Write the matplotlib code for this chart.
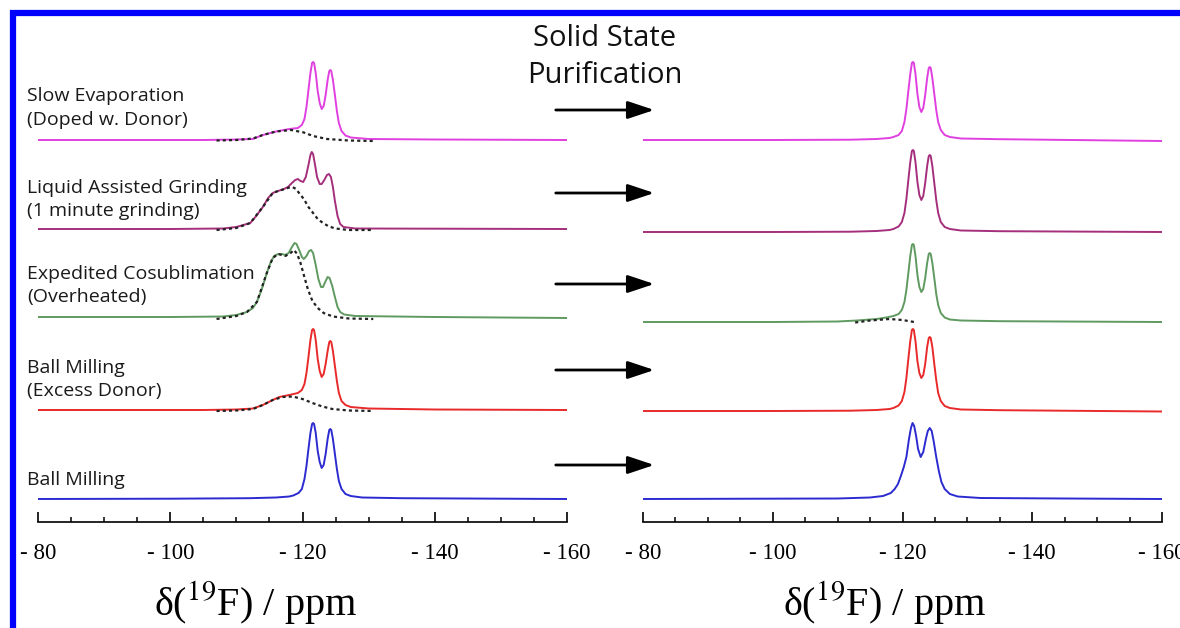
import matplotlib.pyplot as plt
from matplotlib.patches import Rectangle, FancyArrowPatch
from matplotlib.ticker import MultipleLocator, FuncFormatter

# sample names, top to bottom
labels = ["Slow Evaporation\n(Doped w. Donor)",
          "Liquid Assisted Grinding\n(1 minute grinding)",
          "Expedited Cosublimation\n(Overheated)",
          "Ball Milling\n(Excess Donor)",
          "Ball Milling"]
colors = ["#e040e0", "#a52f7c", "#5f9a60", "#e82a2a", "#2b2bd0"]

# 19F spectra (ppm, intensity) -- before purification
slow_before = [(-80, 0), (-105, 0), (-110, 0.5), (-112.5, 1), (-114, 5), (-116, 8.5), (-118, 11),
               (-119.3, 12), (-119.9, 15), (-120.3, 21), (-120.6, 33), (-120.9, 50), (-121.2, 67),
               (-121.45, 77), (-121.6, 78), (-121.75, 77), (-122.0, 67), (-122.3, 49), (-122.6, 37),
               (-122.9, 31), (-123.2, 34), (-123.5, 45), (-123.8, 60), (-124.05, 69), (-124.2, 70),
               (-124.35, 69), (-124.6, 60), (-124.9, 45), (-125.2, 29), (-125.5, 17), (-125.9, 9),
               (-126.5, 4.5), (-127.3, 2.5), (-130, 1), (-140, 0.5), (-160, 0)]
lag_before = [(-80, 0), (-100, 0), (-108, 0.5), (-110, 2), (-112.1, 6), (-113, 13), (-114, 22),
              (-114.8, 31), (-115.5, 36), (-116.3, 38), (-117.2, 40), (-117.8, 42), (-118.4, 46),
              (-118.9, 49), (-119.3, 50), (-119.7, 48), (-120.1, 47), (-120.5, 52), (-120.9, 64),
              (-121.2, 74), (-121.4, 77), (-121.6, 75), (-121.9, 64), (-122.2, 52), (-122.6, 45),
              (-122.9, 45), (-123.3, 49), (-123.7, 54), (-124.0, 55), (-124.3, 52), (-124.6, 42),
              (-124.9, 28), (-125.3, 13), (-125.7, 5), (-126.2, 2), (-128, 0.5), (-160, 0)]
cosub_before = [(-80, 0), (-100, 0), (-108, 0.5), (-110, 2), (-111.6, 5), (-112.5, 9), (-113.1, 15),
                (-113.8, 27), (-114.6, 44), (-115.2, 55), (-115.7, 61), (-116.3, 63), (-116.9, 63),
                (-117.4, 62), (-117.9, 64), (-118.4, 70), (-118.8, 74), (-119.1, 73), (-119.5, 67),
                (-119.9, 60), (-120.2, 58), (-120.6, 61), (-121.0, 66), (-121.3, 67), (-121.6, 64),
                (-122.0, 52), (-122.4, 38), (-122.8, 30), (-123.1, 30), (-123.5, 36), (-123.8, 40),
                (-124.1, 39), (-124.5, 31), (-124.9, 20), (-125.3, 10), (-125.7, 5), (-126.3, 2.5),
                (-128, 1), (-140, 0), (-160, -1)]
excess_before = [(-80, 0), (-105, 0), (-110, 0.5), (-112.5, 1.5), (-114, 5), (-115.5, 10), (-116.5, 13),
                 (-118, 15), (-119.3, 17), (-119.9, 20), (-120.3, 26), (-120.6, 37), (-120.9, 53),
                 (-121.2, 70), (-121.45, 80), (-121.6, 81), (-121.75, 80), (-122.0, 70), (-122.3, 51),
                 (-122.6, 39), (-122.9, 33), (-123.2, 36), (-123.5, 46), (-123.8, 59), (-124.05, 68),
                 (-124.2, 69), (-124.35, 68), (-124.6, 59), (-124.9, 44), (-125.2, 29), (-125.5, 17),
                 (-125.9, 9), (-126.5, 5), (-127.3, 3), (-130, 1.5), (-140, 0.5), (-160, 0)]
ball_before = [(-80, 0), (-100, 0.3), (-112, 0.8), (-116, 1.5), (-118, 2.5), (-118.6, 3.5), (-119.4, 6),
               (-119.9, 10), (-120.3, 20), (-120.6, 33), (-120.9, 50), (-121.2, 66), (-121.45, 75),
               (-121.6, 76), (-121.75, 75), (-122.0, 66), (-122.3, 48), (-122.6, 37), (-122.9, 31),
               (-123.2, 34), (-123.5, 45), (-123.8, 60), (-124.05, 69), (-124.2, 70), (-124.35, 69),
               (-124.6, 60), (-124.9, 45), (-125.2, 30), (-125.5, 18), (-125.9, 10), (-126.5, 5),
               (-127.3, 3), (-129, 1.5), (-135, 0.8), (-160, 0)]

# impurity component (dotted)
slow_impurity = [(-107, -0.5), (-110, 0), (-112.5, 1.5), (-114, 5), (-116, 8.5), (-118.3, 10),
                 (-120.2, 7.5), (-121.6, 4), (-123.7, 1), (-127, -0.5), (-130.7, -1)]
lag_impurity = [(-107, -1), (-110, 1), (-112.1, 6), (-114, 22), (-115.5, 36), (-116.3, 38),
                (-117.3, 40), (-118.0, 41.5), (-118.5, 42), (-119.0, 40), (-119.6, 35), (-120.2, 30),
                (-120.9, 22), (-121.6, 16), (-122.3, 10), (-123.1, 6), (-124.0, 2.5), (-125, 0.5),
                (-127, -1), (-130.7, -1)]
cosub_impurity = [(-107, -2), (-110, 1), (-111.6, 5), (-113.1, 15), (-114.6, 44), (-115.5, 59),
                  (-116.3, 63), (-117.4, 61), (-118.2, 64), (-118.7, 67), (-119.2, 63), (-119.7, 54),
                  (-120.2, 42), (-120.8, 28), (-121.5, 16), (-122.3, 9), (-123.2, 4), (-124.6, 0.5),
                  (-127, -1.5), (-130.7, -2)]
excess_impurity = [(-107, -1), (-110, -0.5), (-112.5, 1), (-114, 5), (-115.5, 10), (-117, 13),
                   (-118.5, 13.5), (-120, 11), (-121.5, 7), (-123, 3.5), (-124.5, 1), (-127, -0.5),
                   (-130.7, -1)]

# after solid state purification
slow_after = [(-80, 0), (-100, 0), (-112, 0.3), (-116, 1), (-118, 2), (-118.6, 3), (-119.4, 5),
              (-119.9, 9), (-120.3, 18), (-120.6, 31), (-120.9, 49), (-121.2, 66), (-121.45, 77),
              (-121.6, 78), (-121.75, 77), (-122.0, 66), (-122.3, 46), (-122.6, 33), (-122.9, 28),
              (-123.2, 32), (-123.5, 45), (-123.8, 62), (-124.05, 72), (-124.2, 73), (-124.35, 72),
              (-124.6, 62), (-124.9, 46), (-125.2, 30), (-125.5, 18), (-125.9, 10), (-126.5, 5),
              (-127.3, 3), (-129, 1.5), (-135, 0.8), (-160, -1)]
lag_after = [(-80, 0), (-100, 0), (-112, 0.3), (-116, 1), (-118, 2), (-118.6, 3), (-119.4, 5.5),
             (-119.9, 10), (-120.3, 19), (-120.6, 33), (-120.9, 52), (-121.2, 70), (-121.45, 81),
             (-121.6, 82), (-121.75, 81), (-122.0, 70), (-122.3, 50), (-122.6, 37), (-122.9, 32),
             (-123.2, 36), (-123.5, 49), (-123.8, 66), (-124.05, 76), (-124.2, 77), (-124.35, 76),
             (-124.6, 66), (-124.9, 49), (-125.2, 32), (-125.5, 19), (-125.9, 10), (-126.5, 5),
             (-127.3, 3), (-129, 1.5), (-135, 0.8), (-160, 0)]
cosub_after = [(-80, 0), (-100, 0), (-110, 0.5), (-113, 1.5), (-116, 3), (-117.5, 4.5), (-118.6, 6),
               (-119.4, 8), (-119.9, 12), (-120.3, 20), (-120.6, 32), (-120.9, 49), (-121.2, 66),
               (-121.45, 77), (-121.6, 78), (-121.75, 77), (-122.0, 66), (-122.3, 47), (-122.6, 35),
               (-122.9, 30), (-123.2, 33), (-123.5, 44), (-123.8, 59), (-124.05, 68), (-124.2, 69),
               (-124.35, 68), (-124.6, 59), (-124.9, 44), (-125.2, 28), (-125.5, 17), (-125.9, 9),
               (-126.5, 4.5), (-127.3, 2.5), (-129, 1.5), (-135, 0.8), (-160, 0)]
excess_after = [(-80, 0), (-100, 0), (-112, 0.3), (-116, 1), (-118, 2), (-118.6, 3), (-119.4, 5.5),
                (-119.9, 10), (-120.3, 19), (-120.6, 33), (-120.9, 52), (-121.2, 70), (-121.45, 81),
                (-121.6, 82), (-121.75, 81), (-122.0, 70), (-122.3, 50), (-122.6, 38), (-122.9, 33),
                (-123.2, 36), (-123.5, 47), (-123.8, 64), (-124.05, 73), (-124.2, 74), (-124.35, 73),
                (-124.6, 64), (-124.9, 47), (-125.2, 31), (-125.5, 18), (-125.9, 10), (-126.5, 5),
                (-127.3, 3), (-129, 1.5), (-135, 0.8), (-160, -0.5)]
ball_after = [(-80, 0), (-110, 0.5), (-115, 1.5), (-117, 3), (-118.2, 6), (-118.8, 10), (-119.3, 15),
              (-119.8, 24), (-120.2, 32), (-120.6, 42), (-121.0, 60), (-121.3, 71), (-121.55, 76),
              (-121.8, 73), (-122.1, 63), (-122.4, 50), (-122.8, 42), (-123.2, 47), (-123.6, 60),
              (-123.9, 68), (-124.2, 71), (-124.5, 68), (-124.8, 58), (-125.2, 42), (-125.6, 28),
              (-126.0, 17), (-126.5, 10), (-127.3, 5), (-128.5, 2.5), (-132, 1), (-145, 0.5), (-160, 0)]
cosub_after_impurity = [(-112.7, -0.5), (-115, 1.5), (-118, 3), (-120, 2), (-121.8, 0)]

before = [slow_before, lag_before, cosub_before, excess_before, ball_before]
after = [slow_after, lag_after, cosub_after, excess_after, ball_after]
impurity_before = [slow_impurity, lag_impurity, cosub_impurity, excess_impurity, None]
impurity_after = [None, None, cosub_after_impurity, None, None]

# stacking offsets (pixels above the axis line)
offsets_left = [382, 293, 205, 112, 23]
offsets_right = [382, 290, 200, 111, 23]

W, H = 1180, 628
fig = plt.figure(figsize=(W / 100, H / 100), dpi=100)
ax1 = fig.add_axes([38 / W, (H - 522) / H, 529 / W, 502 / H])
ax2 = fig.add_axes([643 / W, (H - 522) / H, 519 / W, 502 / H])


def draw_stack(ax, spectra, dotted, offsets):
    for spec, dot, off, c in zip(spectra, dotted, offsets, colors):
        x, y = zip(*spec)
        ax.plot(x, [v + off for v in y], color=c, lw=1.4)
        if dot is not None:
            dx, dy = zip(*dot)
            ax.plot(dx, [v + off for v in dy], color="#222222", lw=1.6, ls=(0, (1.4, 1.4)))
    ax.set_xlim(-80, -160)
    ax.set_ylim(0, 502)
    for s in ["left", "right", "top"]:
        ax.spines[s].set_visible(False)
    ax.spines["bottom"].set_linewidth(1.2)
    ax.set_yticks([])
    ax.xaxis.set_major_locator(MultipleLocator(20))
    ax.xaxis.set_minor_locator(MultipleLocator(5))
    ax.xaxis.set_major_formatter(FuncFormatter(lambda v, p: f"- {abs(v):.0f}"))
    ax.tick_params(axis="x", which="major", direction="in", length=7, width=1.2, pad=15,
                   labelsize=16.5)
    ax.tick_params(axis="x", which="minor", direction="in", length=3.5, width=1.1)
    for t in ax.get_xticklabels():
        t.set_fontfamily("Liberation Serif")
    ax.patch.set_alpha(0)


draw_stack(ax1, before, impurity_before, offsets_left)
draw_stack(ax2, after, impurity_after, offsets_right)

plt.rcParams["mathtext.fontset"] = "stix"
for xc in [256, 885]:
    fig.text(xc / W, 1 - 602 / H, r"δ($^{19}$F) / ppm", ha="center", va="center",
             fontsize=29, family="Liberation Serif")

# sample labels
label_y = [108, 199.5, 285.5, 379.5, 480]
for lab, ly in zip(labels, label_y):
    fig.text(27 / W, 1 - ly / H, lab, ha="left", va="center", fontsize=14,
             family="Open Sans", linespacing=1.4, color="#1a1a1a")

fig.text(605 / W, 1 - 57 / H, "Solid State\nPurification", ha="center", va="center",
         fontsize=21, family="Open Sans", linespacing=1.4, color="#111111")

# arrows
for ay in [110, 193, 284, 370, 465]:
    fig.add_artist(FancyArrowPatch((553, H - ay), (657, H - ay), transform=None,
                                   arrowstyle="-|>,head_length=0.9,head_width=0.3",
                                   mutation_scale=18, lw=2, color="black"))

# blue frame
fig.add_artist(Rectangle((13, -100), 2000, H - 13 + 100, transform=None, fill=False,
                         edgecolor="#0000ff", lw=4.5))

fig.savefig("out.png", dpi=100)
